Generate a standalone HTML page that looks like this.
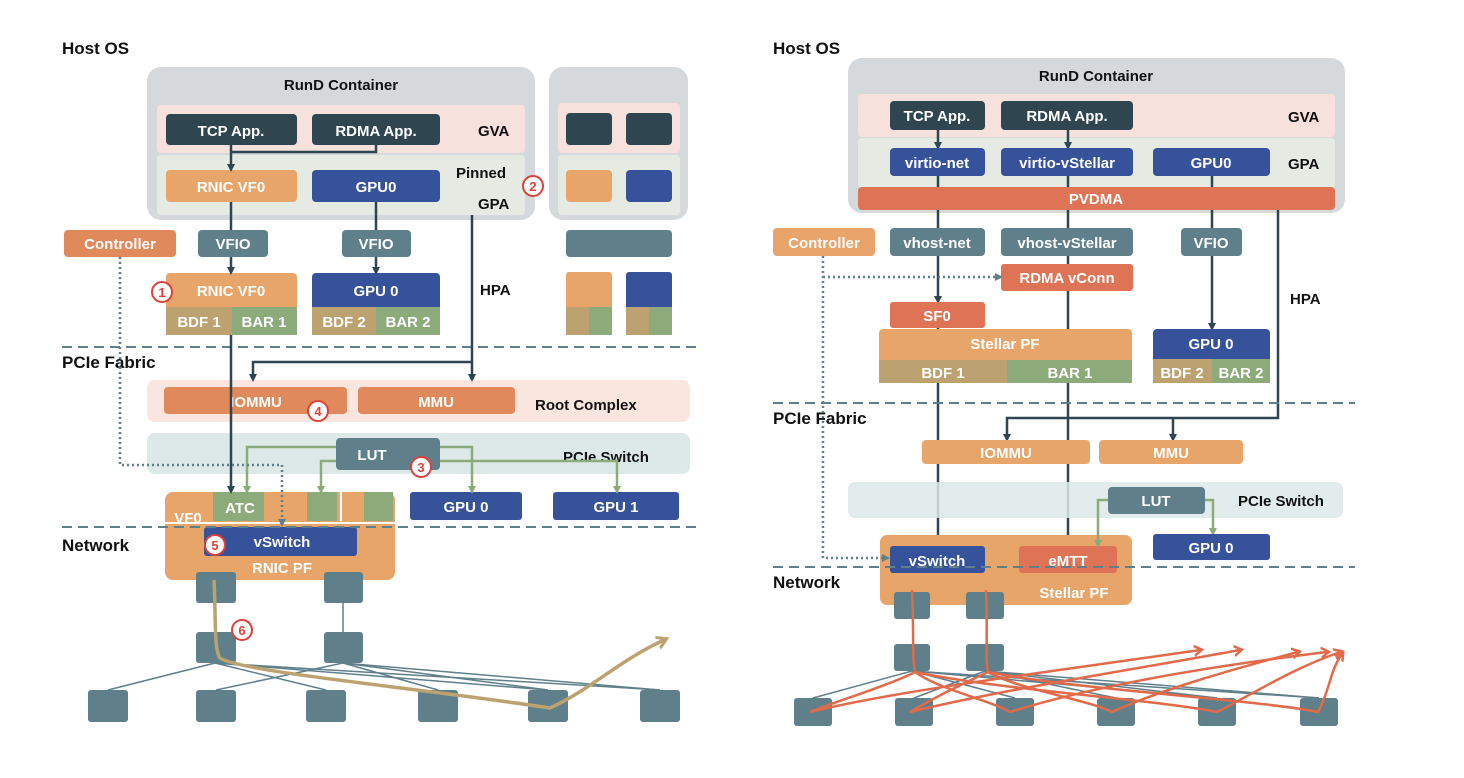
<!DOCTYPE html>
<html><head><meta charset="utf-8"><style>
body{margin:0;background:#fff}
svg{display:block}
text{font-family:"Liberation Sans",sans-serif;font-weight:bold}
.w{fill:#fff;font-size:15px;text-anchor:middle}
.k{fill:#111;font-size:15px}
.h{fill:#111;font-size:17px}
.c{fill:#fff;stroke:#e0403a;stroke-width:2}
.cn{fill:#e0403a;font-size:13px;text-anchor:middle}
</style></head><body>
<svg width="1464" height="778" viewBox="0 0 1464 778">
<defs>
<marker id="a" markerWidth="8" markerHeight="8" refX="4" refY="4" orient="auto" markerUnits="userSpaceOnUse"><path d="M0,0L8,4L0,8z" fill="#2f4550"/></marker>
<marker id="g" markerWidth="8" markerHeight="8" refX="4" refY="4" orient="auto" markerUnits="userSpaceOnUse"><path d="M0,0L8,4L0,8z" fill="#8daa7a"/></marker>
<marker id="s" markerWidth="8" markerHeight="8" refX="4" refY="4" orient="auto" markerUnits="userSpaceOnUse"><path d="M0,0L8,4L0,8z" fill="#5f7f8a"/></marker>
<marker id="o" markerWidth="12" markerHeight="12" refX="6" refY="6" orient="auto" markerUnits="userSpaceOnUse"><path d="M0,1L8,6L0,11" fill="none" stroke="#e06a4a" stroke-width="2.5"/></marker>
<marker id="y" markerWidth="14" markerHeight="14" refX="7" refY="7" orient="auto" markerUnits="userSpaceOnUse"><path d="M0,1L10,7L0,13" fill="none" stroke="#bba270" stroke-width="3"/></marker>
</defs>

<!-- ================= LEFT ================= -->
<text x="62" y="54" class="h">Host OS</text>
<rect x="147" y="67" width="388" height="153" rx="14" fill="#d5d9dc"/>
<text x="341" y="90" class="k" text-anchor="middle">RunD Container</text>
<rect x="157" y="105" width="368" height="48" rx="4" fill="#f6e1dc"/>
<rect x="157" y="155" width="368" height="60" rx="4" fill="#e5ebe2"/>
<rect x="166" y="114" width="131" height="31" rx="4" fill="#2f4550"/><text x="231" y="136" class="w">TCP App.</text>
<rect x="312" y="114" width="128" height="31" rx="4" fill="#2f4550"/><text x="376" y="136" class="w">RDMA App.</text>
<text x="478" y="136" class="k">GVA</text>
<rect x="166" y="170" width="131" height="32" rx="4" fill="#e8a56a"/><text x="231" y="192" class="w">RNIC VF0</text>
<rect x="312" y="170" width="128" height="32" rx="4" fill="#36529b"/><text x="376" y="192" class="w">GPU0</text>
<text x="456" y="178" class="k">Pinned</text><text x="478" y="209" class="k">GPA</text>
<circle cx="533" cy="186" r="10" class="c"/><text x="533" y="191" class="cn">2</text>

<rect x="549" y="67" width="139" height="153" rx="14" fill="#d5d9dc"/>
<rect x="558" y="103" width="122" height="50" rx="4" fill="#f6e1dc"/>
<rect x="558" y="155" width="122" height="60" rx="4" fill="#e5ebe2"/>
<rect x="566" y="113" width="46" height="32" rx="4" fill="#2f4550"/><rect x="626" y="113" width="46" height="32" rx="4" fill="#2f4550"/>
<rect x="566" y="170" width="46" height="32" rx="4" fill="#e8a56a"/><rect x="626" y="170" width="46" height="32" rx="4" fill="#36529b"/>
<rect x="566" y="230" width="106" height="27" rx="4" fill="#5f7f8a"/>
<rect x="566" y="272" width="46" height="63" rx="3" fill="#e8a56a"/><rect x="566" y="307" width="23" height="28" fill="#bba270"/><rect x="589" y="307" width="23" height="28" fill="#8daa7a"/>
<rect x="626" y="272" width="46" height="63" rx="3" fill="#36529b"/><rect x="626" y="307" width="23" height="28" fill="#bba270"/><rect x="649" y="307" width="23" height="28" fill="#8daa7a"/>

<rect x="64" y="230" width="112" height="27" rx="4" fill="#e08a5c"/><text x="120" y="249" class="w">Controller</text>
<rect x="198" y="230" width="70" height="27" rx="4" fill="#5f7f8a"/><text x="233" y="249" class="w">VFIO</text>
<rect x="342" y="230" width="69" height="27" rx="4" fill="#5f7f8a"/><text x="376" y="249" class="w">VFIO</text>
<rect x="166" y="273" width="131" height="62" rx="4" fill="#e8a56a"/><text x="231" y="296" class="w">RNIC VF0</text>
<rect x="166" y="307" width="66" height="28" fill="#bba270"/><rect x="232" y="307" width="65" height="28" fill="#8daa7a"/>
<text x="199" y="327" class="w">BDF 1</text><text x="264" y="327" class="w">BAR 1</text>
<circle cx="162" cy="292" r="10" class="c"/><text x="162" y="297" class="cn">1</text>
<rect x="312" y="273" width="128" height="62" rx="4" fill="#36529b"/><text x="376" y="296" class="w">GPU 0</text>
<rect x="312" y="307" width="64" height="28" fill="#bba270"/><rect x="376" y="307" width="64" height="28" fill="#8daa7a"/>
<text x="344" y="327" class="w">BDF 2</text><text x="408" y="327" class="w">BAR 2</text>
<text x="480" y="295" class="k">HPA</text>

<line x1="62" y1="347" x2="700" y2="347" stroke="#5f7f8a" stroke-width="2" stroke-dasharray="10,6"/>
<text x="62" y="368" class="h">PCIe Fabric</text>
<rect x="147" y="380" width="543" height="42" rx="8" fill="#fbe5df"/>
<rect x="164" y="387" width="183" height="27" rx="4" fill="#e08a5c"/><text x="256" y="407" class="w">IOMMU</text>
<rect x="358" y="387" width="157" height="27" rx="4" fill="#e08a5c"/><text x="436" y="407" class="w">MMU</text>
<text x="535" y="410" class="k">Root Complex</text>
<rect x="147" y="433" width="543" height="41" rx="8" fill="#dde9e9"/>
<text x="563" y="462" class="k">PCIe Switch</text>

<rect x="165" y="492" width="230" height="88" rx="8" fill="#e8a56a"/>
<rect x="213" y="492" width="51" height="29" fill="#8daa7a"/><text x="240" y="513" class="w">ATC</text>
<rect x="307" y="492" width="30" height="29" fill="#8daa7a"/><rect x="364" y="492" width="29" height="29" fill="#8daa7a"/>
<line x1="341" y1="492" x2="341" y2="521" stroke="#fff" stroke-width="2"/>
<line x1="165" y1="523" x2="395" y2="523" stroke="#fff" stroke-width="2"/>
<text x="188" y="523" class="w">VF0</text>
<rect x="204" y="527" width="153" height="29" rx="3" fill="#36529b"/><text x="282" y="547" class="w">vSwitch</text>
<circle cx="215" cy="545" r="10" class="c"/><text x="215" y="550" class="cn">5</text>
<text x="282" y="573" class="w">RNIC PF</text>
<rect x="410" y="492" width="112" height="28" rx="3" fill="#36529b"/><text x="466" y="512" class="w">GPU 0</text>
<rect x="553" y="492" width="126" height="28" rx="3" fill="#36529b"/><text x="616" y="512" class="w">GPU 1</text>
<line x1="62" y1="527" x2="700" y2="527" stroke="#5f7f8a" stroke-width="2" stroke-dasharray="10,6"/>
<text x="62" y="551" class="h">Network</text>

<g stroke="#2f4550" stroke-width="2.5" fill="none">
<path d="M231,145V168" marker-end="url(#a)"/>
<path d="M376,145V152H231"/>
<path d="M231,202V230"/><path d="M231,257V271" marker-end="url(#a)"/>
<path d="M376,202V230"/><path d="M376,257V271" marker-end="url(#a)"/>
<path d="M472,215V378" marker-end="url(#a)"/>
<path d="M472,362H253V378" marker-end="url(#a)"/>
<path d="M231,335V490" marker-end="url(#a)"/>
</g>
<rect x="336" y="438" width="104" height="32" rx="4" fill="#5f7f8a"/><text x="372" y="460" class="w">LUT</text>
<circle cx="421" cy="467" r="10" class="c"/><text x="421" y="472" class="cn">3</text>
<g stroke="#8daa7a" stroke-width="2.5" fill="none">
<path d="M336,447H247V490" marker-end="url(#g)"/>
<path d="M336,461H321V490" marker-end="url(#g)"/>
<path d="M440,447H472V490" marker-end="url(#g)"/>
<path d="M440,461H617V490" marker-end="url(#g)"/>
</g>
<path d="M120,257V465H282V523" stroke="#5f7f8a" stroke-width="2.5" stroke-dasharray="2,3" fill="none" marker-end="url(#s)"/>
<circle cx="318" cy="411" r="10" class="c"/><text x="318" y="416" class="cn">4</text>

<g fill="#5f7f8a">
<rect x="196" y="572" width="40" height="31" rx="3"/><rect x="324" y="572" width="39" height="31" rx="3"/>
<rect x="196" y="632" width="40" height="31" rx="3"/><rect x="324" y="632" width="39" height="31" rx="3"/>
<rect x="88" y="690" width="40" height="32" rx="3"/><rect x="196" y="690" width="40" height="32" rx="3"/><rect x="306" y="690" width="40" height="32" rx="3"/><rect x="418" y="690" width="40" height="32" rx="3"/><rect x="528" y="690" width="40" height="32" rx="3"/><rect x="640" y="690" width="40" height="32" rx="3"/>
</g>
<g stroke="#5f7f8a" stroke-width="1.5">
<line x1="343" y1="603" x2="343" y2="632"/>
<line x1="215" y1="663" x2="108" y2="690"/><line x1="215" y1="663" x2="326" y2="690"/><line x1="215" y1="663" x2="548" y2="690"/><line x1="215" y1="663" x2="660" y2="690"/>
<line x1="343" y1="663" x2="216" y2="690"/><line x1="343" y1="663" x2="438" y2="690"/><line x1="343" y1="663" x2="548" y2="690"/><line x1="343" y1="663" x2="660" y2="690"/>
</g>
<path d="M214,580C216,620 214,650 220,658C240,672 420,688 550,708C590,690 620,660 664,640" stroke="#bba270" stroke-width="3.5" fill="none" marker-end="url(#y)"/>
<circle cx="242" cy="630" r="10" class="c"/><text x="242" y="635" class="cn">6</text>

<!-- ================= RIGHT ================= -->
<text x="773" y="54" class="h">Host OS</text>
<rect x="848" y="58" width="497" height="155" rx="14" fill="#d5d9dc"/>
<text x="1096" y="81" class="k" text-anchor="middle">RunD Container</text>
<rect x="858" y="94" width="477" height="43" rx="4" fill="#f6e1dc"/>
<rect x="858" y="138" width="477" height="50" rx="4" fill="#e5ebe2"/>

<g stroke="#2f4550" stroke-width="2.5" fill="none">
<path d="M938,130V146" marker-end="url(#a)"/><path d="M1068,130V146" marker-end="url(#a)"/>
<path d="M938,176V300" marker-end="url(#a)"/>
<path d="M938,328V544" marker-end="url(#a)"/>
<path d="M1068,176V544" marker-end="url(#a)"/>
<path d="M1212,176V327" marker-end="url(#a)"/>
<path d="M1278,210V418H1007V438" marker-end="url(#a)"/>
<path d="M1173,418V438" marker-end="url(#a)"/>
</g>

<rect x="858" y="187" width="477" height="23" rx="4" fill="#de7455"/><text x="1096" y="204" class="w">PVDMA</text>
<rect x="890" y="101" width="95" height="29" rx="4" fill="#2f4550"/><text x="937" y="121" class="w">TCP App.</text>
<rect x="1001" y="101" width="132" height="29" rx="4" fill="#2f4550"/><text x="1067" y="121" class="w">RDMA App.</text>
<text x="1288" y="122" class="k">GVA</text>
<rect x="890" y="148" width="95" height="28" rx="4" fill="#36529b"/><text x="937" y="168" class="w">virtio-net</text>
<rect x="1001" y="148" width="132" height="28" rx="4" fill="#36529b"/><text x="1067" y="168" class="w">virtio-vStellar</text>
<rect x="1153" y="148" width="117" height="28" rx="4" fill="#36529b"/><text x="1211" y="168" class="w">GPU0</text>
<text x="1288" y="169" class="k">GPA</text>

<rect x="773" y="228" width="102" height="28" rx="4" fill="#e9a46b"/><text x="824" y="248" class="w">Controller</text>
<rect x="890" y="228" width="95" height="28" rx="4" fill="#5f7f8a"/><text x="937" y="248" class="w">vhost-net</text>
<rect x="1001" y="228" width="132" height="28" rx="4" fill="#5f7f8a"/><text x="1067" y="248" class="w">vhost-vStellar</text>
<rect x="1181" y="228" width="61" height="28" rx="4" fill="#5f7f8a"/><text x="1211" y="248" class="w">VFIO</text>
<rect x="1001" y="264" width="132" height="27" rx="3" fill="#de7455"/><text x="1067" y="283" class="w">RDMA vConn</text>
<rect x="890" y="302" width="95" height="26" rx="3" fill="#de7455"/><text x="937" y="321" class="w">SF0</text>
<rect x="879" y="329" width="253" height="54" rx="4" fill="#e8a56a"/><text x="1005" y="349" class="w">Stellar PF</text>
<rect x="879" y="360" width="128" height="23" fill="#bba270"/><rect x="1007" y="360" width="125" height="23" fill="#8daa7a"/>
<text x="943" y="378" class="w">BDF 1</text><text x="1070" y="378" class="w">BAR 1</text>
<rect x="1153" y="329" width="117" height="54" rx="4" fill="#36529b"/><text x="1211" y="349" class="w">GPU 0</text>
<rect x="1153" y="359" width="59" height="24" fill="#bba270"/><rect x="1212" y="359" width="58" height="24" fill="#8daa7a"/>
<text x="1182" y="378" class="w">BDF 2</text><text x="1241" y="378" class="w">BAR 2</text>
<text x="1290" y="304" class="k">HPA</text>

<line x1="773" y1="403" x2="1355" y2="403" stroke="#5f7f8a" stroke-width="2" stroke-dasharray="10,6"/>
<text x="773" y="424" class="h">PCIe Fabric</text>
<rect x="922" y="440" width="168" height="24" rx="4" fill="#e8a56a"/><text x="1006" y="458" class="w">IOMMU</text>
<rect x="1099" y="440" width="144" height="24" rx="4" fill="#e8a56a"/><text x="1171" y="458" class="w">MMU</text>
<rect x="848" y="482" width="495" height="36" rx="7" fill="#dde9e9" fill-opacity="0.85"/>
<text x="1238" y="506" class="k">PCIe Switch</text>
<rect x="880" y="535" width="252" height="70" rx="7" fill="#e8a56a"/>
<rect x="890" y="546" width="95" height="27" rx="3" fill="#36529b"/><text x="937" y="566" class="w">vSwitch</text>
<rect x="1019" y="546" width="98" height="27" rx="3" fill="#de7455"/><text x="1068" y="566" class="w">eMTT</text>
<text x="1074" y="598" class="w">Stellar PF</text>
<rect x="1108" y="487" width="97" height="27" rx="4" fill="#5f7f8a"/><text x="1156" y="506" class="w">LUT</text>
<g stroke="#8daa7a" stroke-width="2.5" fill="none">
<path d="M1108,500H1098V544" marker-end="url(#g)"/>
<path d="M1205,500H1213V532" marker-end="url(#g)"/>
</g>
<rect x="1153" y="534" width="117" height="26" rx="3" fill="#36529b"/><text x="1211" y="553" class="w">GPU 0</text>
<path d="M823,256V558H886" stroke="#5f7f8a" stroke-width="2.5" stroke-dasharray="2,3" fill="none" marker-end="url(#s)"/>
<path d="M823,277H999" stroke="#5f7f8a" stroke-width="2.5" stroke-dasharray="2,3" fill="none" marker-end="url(#s)"/>
<line x1="773" y1="567" x2="1355" y2="567" stroke="#5f7f8a" stroke-width="2" stroke-dasharray="10,6"/>
<text x="773" y="588" class="h">Network</text>

<g fill="#5f7f8a">
<rect x="894" y="592" width="36" height="27" rx="3"/><rect x="966" y="592" width="38" height="27" rx="3"/>
<rect x="894" y="644" width="36" height="27" rx="3"/><rect x="966" y="644" width="38" height="27" rx="3"/>
<rect x="794" y="698" width="38" height="28" rx="3"/><rect x="895" y="698" width="38" height="28" rx="3"/><rect x="996" y="698" width="38" height="28" rx="3"/><rect x="1097" y="698" width="38" height="28" rx="3"/><rect x="1198" y="698" width="38" height="28" rx="3"/><rect x="1300" y="698" width="38" height="28" rx="3"/>
</g>
<g stroke="#5f7f8a" stroke-width="1.5">
<line x1="912" y1="671" x2="813" y2="698"/><line x1="912" y1="671" x2="1015" y2="698"/><line x1="912" y1="671" x2="1217" y2="698"/><line x1="912" y1="671" x2="1319" y2="698"/>
<line x1="985" y1="671" x2="914" y2="698"/><line x1="985" y1="671" x2="1116" y2="698"/><line x1="985" y1="671" x2="1217" y2="698"/><line x1="985" y1="671" x2="1319" y2="698"/>
</g>
<g stroke="#e06a4a" stroke-width="2.5" fill="none">
<path d="M912,590C914,630 912,660 915,672C890,685 840,700 810,712C900,690 1050,672 1200,650" marker-end="url(#o)"/>
<path d="M915,672C940,690 990,700 1010,712C1080,690 1180,670 1327,652" marker-end="url(#o)"/>
<path d="M915,672C1000,690 1160,700 1217,712C1260,690 1290,670 1340,652" marker-end="url(#o)"/>
<path d="M986,590C988,630 985,660 988,672C960,685 930,700 910,712C1000,690 1120,672 1240,650" marker-end="url(#o)"/>
<path d="M988,672C1020,690 1090,700 1112,712C1160,690 1230,670 1298,652" marker-end="url(#o)"/>
<path d="M988,672C1080,690 1260,700 1318,712C1330,690 1330,670 1342,654" marker-end="url(#o)"/>
</g>
</svg>
</body></html>
